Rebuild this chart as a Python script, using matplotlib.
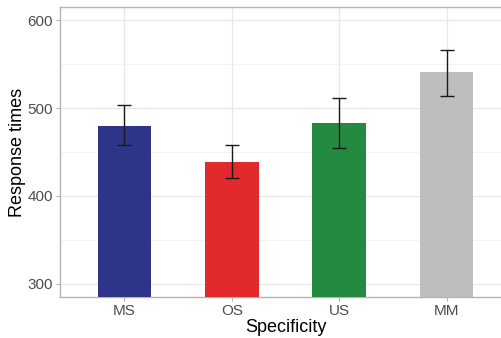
import matplotlib
matplotlib.use("Agg")
import matplotlib.pyplot as plt
import numpy as np

categories = ["MS", "OS", "US", "MM"]
means = [480, 439, 483, 541]
err_low = [458, 420, 454, 514]
err_high = [503, 458, 512, 566]
colors = ["#2E3588", "#E2292B", "#238A40", "#BEBEBE"]
yticks = [300, 400, 500, 600]

plt.rcParams['font.family'] = ['Liberation Sans', 'DejaVu Sans']

fig = plt.figure(figsize=(5.01, 3.38), dpi=100)
ax = fig.add_axes([60/501, 41/338, 451/501, 290/338])

x = np.arange(len(categories)) + 1
ax.bar(x, means, width=0.5, color=colors, zorder=3)
yerr = [np.array(means) - np.array(err_low), np.array(err_high) - np.array(means)]
ax.errorbar(x, means, yerr=yerr, fmt='none', ecolor='#1a1a1a', elinewidth=1.0,
            capsize=5.2, capthick=1.0, zorder=4)

ax.set_xlim(0.4, 4.6)
ax.set_ylim(285, 615)
ax.set_xticks(x)
ax.set_xticklabels(categories)
ax.set_yticks(yticks)
ax.set_yticks([350, 450, 550], minor=True)

ax.grid(True, which='major', color='#E8E8E8', linewidth=0.9, zorder=0)
ax.grid(True, which='minor', axis='y', color='#F2F2F2', linewidth=0.6, zorder=0)
ax.set_axisbelow(True)

for s in ax.spines.values():
    s.set_color('#B3B3B3')
    s.set_linewidth(1.0)
ax.spines['right'].set_visible(False)

ax.tick_params(axis='both', which='major', length=3, width=0.8, color='#B3B3B3',
               labelcolor='#4D4D4D', labelsize=11, pad=2)
ax.tick_params(axis='y', which='minor', length=0)

ax.set_xlabel("Specificity", fontsize=13, color='black', labelpad=1)
ax.set_ylabel("Response times", fontsize=13, color='black', labelpad=1)

fig.savefig("out.png", dpi=100)
